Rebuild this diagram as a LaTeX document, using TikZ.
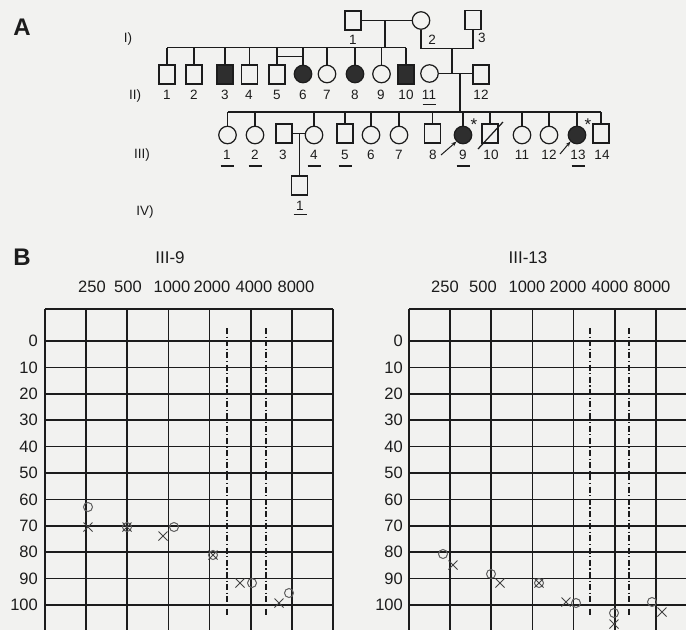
\documentclass[tikz,border=0pt]{standalone}
\usepackage{fontspec}
\setmainfont{Liberation Sans}
\usetikzlibrary{arrows.meta,shapes.misc}
\definecolor{paper}{RGB}{242,242,240}
\definecolor{ink}{RGB}{28,28,28}
\definecolor{pencil}{RGB}{95,95,95}
\begin{document}
\begin{tikzpicture}[x=1pt,y=-1pt,
  sq/.style={draw=ink, rectangle, minimum width=16pt, minimum height=19pt, inner sep=0pt, line width=1.25pt},
  ci/.style={draw=ink, circle, minimum size=17.5pt, inner sep=0pt, line width=1.25pt},
  aff/.style={fill=ink!92},
  num/.style={font=\fontsize{13.5}{15}\selectfont, inner sep=0pt, text=ink},
  star/.style={font=\fontsize{17}{18}\selectfont, inner sep=0pt, text=ink},
  ln/.style={draw=ink, line width=1.25pt},
  panel/.style={font=\fontsize{24}{26}\selectfont\bfseries, inner sep=0pt, text=ink},
  ttl/.style={font=\fontsize{17}{19}\selectfont, inner sep=0pt, text=ink},
  ax/.style={font=\fontsize{16.5}{18}\selectfont, inner sep=0pt, text=ink},
  gridln/.style={draw=ink, line width=1.6pt},
  dd/.style={draw=ink, line width=1.1pt, dash pattern=on 6pt off 2.5pt on 1.2pt off 2.5pt},
  om/.style={draw=pencil, circle, minimum size=9pt, inner sep=0pt, line width=1pt},
  xm/.style={draw=pencil!70!black, cross out, minimum size=8pt, inner sep=0pt, line width=1pt},
  pro/.style={draw=ink, line width=1pt, -{Stealth[length=5pt,width=4pt]}}
]
\useasboundingbox[fill=paper] (0,0) rectangle (686,630);

% ---------------- Panel A ----------------
\node[panel] (pA) at (22,27) {A};
\node[num] (gI) at (128,39) {I)};
\node[num] (gII) at (135,96) {II)};
\node[num] (gIII) at (142,155) {III)};
\node[num] (gIV) at (145,212) {IV)};

% Generation I
\node[sq] (i1) at (353,20.5) {};
\node[ci] (i2) at (421,20.5) {};
\node[sq] (i3) at (473,20) {};
\node[num] (li1) at (353,40) {1};
\node[num] (li2) at (432,40) {2};
\node[num] (li3) at (482,38) {3};

% Generation II
\node[sq] (ii1) at (167,74.5) {};
\node[sq] (ii2) at (194,74.5) {};
\node[sq,aff] (ii3) at (225,74.5) {};
\node[sq] (ii4) at (249.5,74.5) {};
\node[sq] (ii5) at (277,74.5) {};
\node[ci,aff] (ii6) at (303,74) {};
\node[ci] (ii7) at (327,74) {};
\node[ci,aff] (ii8) at (355,74) {};
\node[ci] (ii9) at (381.5,74) {};
\node[sq,aff] (ii10) at (406,74.5) {};
\node[ci] (ii11) at (429.5,73.5) {};
\node[sq] (ii12) at (481,74.5) {};
\foreach \n/\x in {1/167,2/194,3/225,4/249,5/277,6/303,7/327,8/355,9/381,10/406,11/429,12/481}
  \node[num] (lii\n) at (\x,95) {\n};

% Generation III
\node[ci] (iii1) at (227.5,135) {};
\node[ci] (iii2) at (255,135) {};
\node[sq] (iii3) at (284,133.5) {};
\node[ci] (iii4) at (314,135) {};
\node[sq] (iii5) at (345,133.5) {};
\node[ci] (iii6) at (371,135) {};
\node[ci] (iii7) at (399,135) {};
\node[sq] (iii8) at (432.5,133.5) {};
\node[ci,aff] (iii9) at (463,135) {};
\node[sq] (iii10) at (490,133.5) {};
\node[ci] (iii11) at (522,135) {};
\node[ci] (iii12) at (549,135) {};
\node[ci,aff] (iii13) at (577,135) {};
\node[sq] (iii14) at (601,133.5) {};
\foreach \n/\x in {1/227,2/255,3/283,4/314,5/345,6/371,7/399,8/433,9/463,10/491,11/522,12/549,13/578,14/602}
  \node[num] (liii\n) at (\x,154.5) {\n};

% Generation IV
\node[sq] (iv1) at (299.5,185.5) {};
\node[num] (liv1) at (300,206) {1};

% underlines
\foreach \l/\d in {lii11/9.5,liii1/11.5,liii2/11.5,liii4/11.5,liii5/11.5,liii9/11.5,liii13/11.5,liv1/8.5}
  \draw[ln] ([xshift=-6.5pt,yshift=-\d pt]\l.center) -- ([xshift=6.5pt,yshift=-\d pt]\l.center);

% connectors generation I -> II
\coordinate (m1) at (385,20.5);
\coordinate (s2) at (385,47.5);
\draw[ln] (i1) -- (i2);
\draw[ln] (m1) -- (s2);
\draw[ln] (s2 -| ii1) -- (s2 -| ii10);
\foreach \n in {1,...,10} \draw[ln] (s2 -| ii\n) -- (ii\n.north);
\coordinate (tw) at (0,56.5);
\draw[ln] (tw -| ii5) -- (tw -| ii6);
\coordinate (c23) at (0,48.5);
\draw[ln] (i2.south) -- (i2.south |- c23) -- (i3.south |- c23) -- (i3.south);
\coordinate (d23) at (452,48.5);
\coordinate (m2a) at (452,73.5);
\draw[ln] (d23) -- (m2a);
\draw[ln] (ii11.east) -- (ii11.east -| ii12.west);

% connectors generation II -> III
\coordinate (m2) at (460,73.5);
\coordinate (s3) at (460,112);
\draw[ln] (m2) -- (s3);
\draw[ln] (s3 -| iii1) -- (s3 -| iii14);
\foreach \n in {1,2,4,5,6,7,8,9,10,11,12,13,14} \draw[ln] (s3 -| iii\n) -- (iii\n.north);

% III-3 x III-4 -> IV-1
\draw[ln] (iii3.east) -- (iii3.east -| iii4.west);
\coordinate (m3) at (299.5,133.5);
\draw[ln] (m3) -- (iv1.north);

% deceased, probands, asterisks
\coordinate (dA) at (478,149);
\coordinate (dB) at (503,122);
\draw[ln] (dA) -- (dB);
\coordinate (p9) at (441,155);
\coordinate (p13) at (560,154);
\draw[pro] (p9) -- (iii9.225);
\draw[pro] (p13) -- (iii13.225);
\node[star] (st9) at (474,125) {*};
\node[star] (st13) at (588,125) {*};

% ---------------- Panel B ----------------
\node[panel] (pB) at (22,257) {B};
\node[ttl] (t9) at (170,258) {III-9};
\node[ttl] (t13) at (528,258) {III-13};
\foreach \f/\x in {250/92,500/128,1000/172,2000/212,4000/254,8000/296}
  \node[ax] (lf\f) at (\x,287) {\f};
\foreach \f/\x in {250/445,500/483,1000/527,2000/568,4000/610,8000/652}
  \node[ax] (rf\f) at (\x,287) {\f};

% grids
\draw[gridln] (45,309) -- (333,309);
\draw[gridln] (409,309) -- (686,309);
\foreach \k [evaluate=\k as \v using int(10*\k)] in {0,...,10} {
  \draw[gridln] (45,{341+26.4*\k}) -- (333,{341+26.4*\k});
  \draw[gridln] (409,{341+26.4*\k}) -- (686,{341+26.4*\k});
  \node[ax,anchor=east] (la\k) at (38,{341+26.4*\k}) {\v};
  \node[ax,anchor=east] (ra\k) at (403,{341+26.4*\k}) {\v};
}
\foreach \i in {0,...,7} \draw[gridln] ({45+41.14*\i},309) -- ({45+41.14*\i},630);
\foreach \i in {0,...,6} \draw[gridln] ({409+41.14*\i},309) -- ({409+41.14*\i},630);
\foreach \x in {227,266,590,629} \draw[dd] (\x,328) -- (\x,617);

% III-9 markers
\node[om] (a1) at (88,507) {};
\node[xm] (b1) at (88,527) {};
\node[om] (a2) at (127,527) {};
\node[xm] (b2) at (127,527) {};
\node[xm] (b3) at (163,536) {};
\node[om] (a3) at (174,527) {};
\node[om] (a4) at (213,555) {};
\node[xm] (b4) at (213,555) {};
\node[xm] (b5) at (240,583) {};
\node[om] (a5) at (252,583) {};
\node[xm] (b6) at (279,603) {};
\node[om] (a6) at (289,593) {};

% III-13 markers
\node[om] (c1) at (443,554) {};
\node[xm] (e1) at (453,565) {};
\node[om] (c2) at (491,574) {};
\node[xm] (e2) at (500,583) {};
\node[om] (c3) at (539,583) {};
\node[xm] (e3) at (539,583) {};
\node[xm] (e4) at (566,602) {};
\node[om] (c4) at (576,603) {};
\node[om] (c5) at (614,613) {};
\node[xm] (e5) at (614,624) {};
\node[om] (c6) at (652,602) {};
\node[xm] (e6) at (662,612) {};
\end{tikzpicture}
\end{document}
